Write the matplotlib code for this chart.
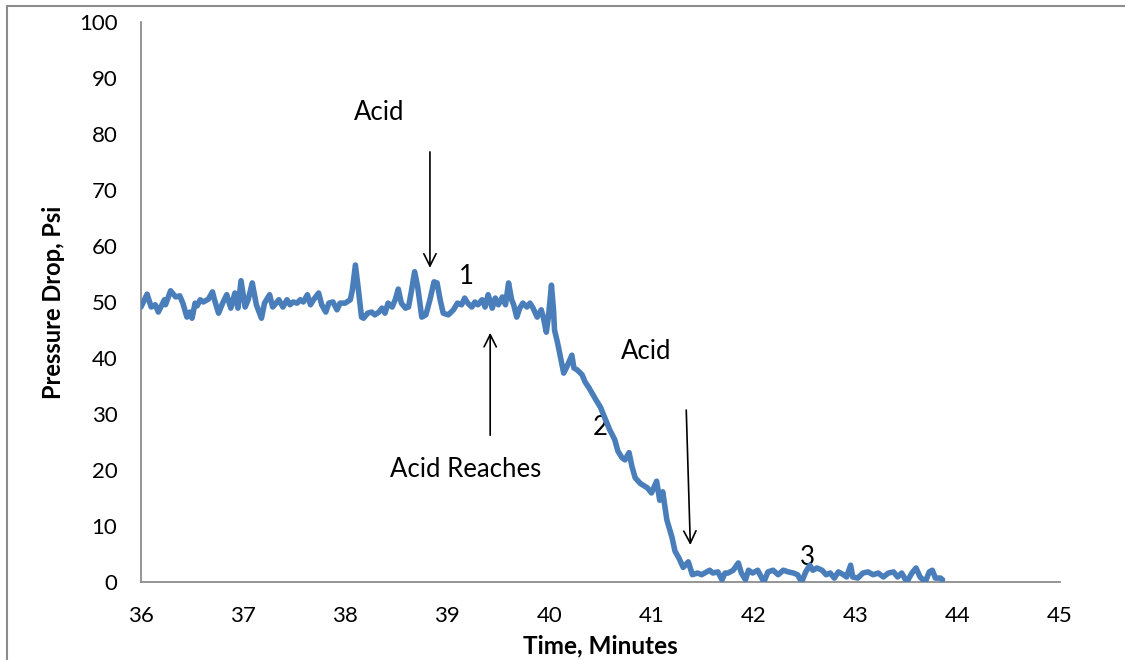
import matplotlib
matplotlib.use("Agg")
from matplotlib import pyplot as plt
from matplotlib.lines import Line2D

plt.rcParams['font.family'] = ['Lato', 'DejaVu Sans']

# time (minutes) and pressure drop (psi)
t = [36.00, 36.06, 36.10, 36.14, 36.17, 36.23, 36.24, 36.29, 36.34, 36.38,
     36.41, 36.45, 36.48, 36.50, 36.53, 36.55, 36.58, 36.61, 36.66, 36.70,
     36.72, 36.76, 36.80, 36.84, 36.88, 36.92, 36.95, 36.98, 37.02, 37.05,
     37.09, 37.13, 37.18, 37.21, 37.26, 37.29, 37.31, 37.35, 37.39, 37.43,
     37.46, 37.49, 37.53, 37.56, 37.59, 37.63, 37.66, 37.69, 37.74, 37.77,
     37.81, 37.84, 37.88, 37.92, 37.95, 38.00, 38.05, 38.07, 38.10, 38.13,
     38.16, 38.18, 38.22, 38.26, 38.29, 38.33, 38.36, 38.39, 38.42, 38.46,
     38.49, 38.52, 38.55, 38.59, 38.62, 38.65, 38.68, 38.71, 38.75, 38.79,
     38.83, 38.87, 38.90, 38.93, 38.96, 39.01, 39.06, 39.10, 39.14, 39.17,
     39.20, 39.24, 39.27, 39.30, 39.34, 39.37, 39.40, 39.44, 39.47, 39.50,
     39.54, 39.57, 39.60, 39.63, 39.65, 39.68, 39.71, 39.74, 39.78, 39.81,
     39.84, 39.88, 39.92, 39.94, 39.97, 39.99, 40.02, 40.04, 40.05, 40.08,
     40.12, 40.14, 40.17, 40.22, 40.24, 40.27, 40.32, 40.35, 40.39, 40.45,
     40.50, 40.54, 40.59, 40.64, 40.67, 40.71, 40.74, 40.78, 40.81, 40.84,
     40.89, 40.96, 41.00, 41.05, 41.08, 41.11, 41.15, 41.20, 41.23, 41.27,
     41.31, 41.36, 41.40, 41.45, 41.49, 41.54, 41.57, 41.60, 41.65, 41.69,
     41.72, 41.75, 41.80, 41.85, 41.88, 41.92, 41.95, 41.99, 42.04, 42.10,
     42.14, 42.19, 42.24, 42.29, 42.34, 42.39, 42.43, 42.47, 42.51, 42.55,
     42.58, 42.62, 42.67, 42.71, 42.75, 42.79, 42.83, 42.88, 42.91, 42.95,
     42.97, 43.02, 43.07, 43.12, 43.17, 43.22, 43.27, 43.32, 43.37, 43.41,
     43.45, 43.50, 43.55, 43.59, 43.63, 43.68, 43.72, 43.75, 43.78, 43.83,
     43.85]
dp = [49.1, 51.4, 49.1, 49.5, 48.2, 50.4, 49.5, 52.0, 50.9, 51.1,
      49.8, 47.3, 48.2, 47.1, 49.8, 49.3, 50.4, 50.0, 50.5, 51.8,
      50.4, 48.0, 49.8, 51.3, 48.9, 51.6, 48.9, 53.8, 49.1, 50.4,
      53.4, 49.5, 47.1, 49.8, 51.3, 49.1, 49.5, 50.4, 49.1, 50.4,
      49.5, 50.0, 49.8, 50.4, 50.0, 51.3, 49.5, 50.4, 51.6, 49.5,
      48.2, 49.8, 50.0, 48.6, 49.8, 49.8, 50.4, 52.1, 56.6, 52.1,
      47.3, 47.1, 48.0, 48.2, 47.7, 48.2, 48.9, 48.0, 49.8, 49.1,
      50.4, 52.3, 49.8, 48.9, 49.1, 52.1, 55.4, 52.7, 47.3, 47.7,
      50.4, 53.6, 53.4, 50.4, 48.0, 47.7, 48.6, 49.8, 49.5, 50.7,
      49.8, 49.1, 50.0, 49.5, 50.4, 49.1, 51.3, 48.9, 50.7, 49.5,
      50.9, 49.5, 53.4, 50.4, 49.5, 47.3, 48.9, 49.8, 49.1, 49.8,
      48.9, 47.3, 48.6, 47.3, 44.6, 47.3, 53.0, 48.6, 45.0, 42.7,
      39.1, 37.3, 38.4, 40.5, 38.2, 37.9, 37.0, 35.7, 34.6, 32.7,
      31.2, 29.4, 27.2, 25.4, 23.4, 22.2, 21.8, 23.1, 20.5, 18.6,
      17.6, 16.8, 15.9, 18.0, 14.6, 16.1, 11.1, 8.0, 5.5, 4.2,
      2.6, 3.6, 1.3, 1.6, 1.3, 1.8, 2.1, 1.6, 1.8, 0.4,
      1.6, 1.6, 2.1, 3.4, 1.6, 0.4, 2.1, 1.6, 2.1, 0.0,
      1.8, 2.1, 1.3, 2.1, 1.8, 1.6, 1.3, 0.0, 1.8, 3.0,
      2.1, 2.5, 2.1, 1.3, 1.6, 0.7, 1.8, 1.3, 0.9, 3.0,
      0.9, 0.7, 1.6, 1.8, 1.3, 1.6, 0.9, 1.6, 1.8, 0.9,
      1.6, 0.0, 1.6, 2.5, 0.9, 0.0, 1.8, 2.1, 0.7, 0.7,
      0.4]

xticks = list(range(36, 46))
yticks = list(range(0, 101, 10))

fig = plt.figure(figsize=(11.25, 6.6), dpi=100)
ax = fig.add_axes([0.1253, 0.1182, 0.8169, 0.8485])

ax.plot(t, dp, color='#4a7ebb', lw=4.0, solid_joinstyle='round',
        solid_capstyle='round', zorder=3)

ax.set_xlim(36, 45)
ax.set_ylim(0, 100)
ax.set_xticks(xticks)
ax.set_yticks(yticks)
ax.tick_params(length=0, labelsize=16, pad=17)
for s in ['top', 'right']:
    ax.spines[s].set_visible(False)
for s in ['left', 'bottom']:
    ax.spines[s].set_color('#8c8c8c')
    ax.spines[s].set_linewidth(1.3)

ax.set_xlabel('Time, Minutes', fontsize=17.5, fontweight='bold', labelpad=6)
ax.set_ylabel('Pressure Drop, Psi', fontsize=17, fontweight='bold', labelpad=10)

# annotations (text sits under the trace)
arr = dict(arrowstyle='->', lw=1.2, color='black', mutation_scale=22,
           shrinkA=0, shrinkB=0)
fs = 18.5
ax.text(38.33, 83.9, 'Acid', fontsize=fs, ha='center', va='center', zorder=1)
ax.annotate('', xy=(38.83, 56.1), xytext=(38.83, 76.8), arrowprops=arr)
ax.text(39.19, 54.6, '1', fontsize=fs, ha='center', va='center', zorder=1)
ax.annotate('', xy=(39.42, 44.5), xytext=(39.42, 26.2), arrowprops=arr)
ax.text(39.18, 20.0, 'Acid Reaches', fontsize=fs, ha='center', va='center', zorder=1)
ax.text(40.95, 41.1, 'Acid', fontsize=fs, ha='center', va='center', zorder=1)
ax.annotate('', xy=(41.38, 6.6), xytext=(41.34, 30.7), arrowprops=arr)
ax.text(40.50, 27.6, '2', fontsize=fs, ha='center', va='center', zorder=1)
ax.text(42.53, 4.4, '3', fontsize=fs, ha='center', va='center', zorder=1)

# outer frame
fx, fy = 7 / 1125, 1 - 6 / 660
fig.add_artist(Line2D([fx, fx], [0, fy], color='#8c8c8c', lw=1.5))
fig.add_artist(Line2D([fx, 1], [fy, fy], color='#8c8c8c', lw=1.5))

fig.savefig('out.png', dpi=100)
